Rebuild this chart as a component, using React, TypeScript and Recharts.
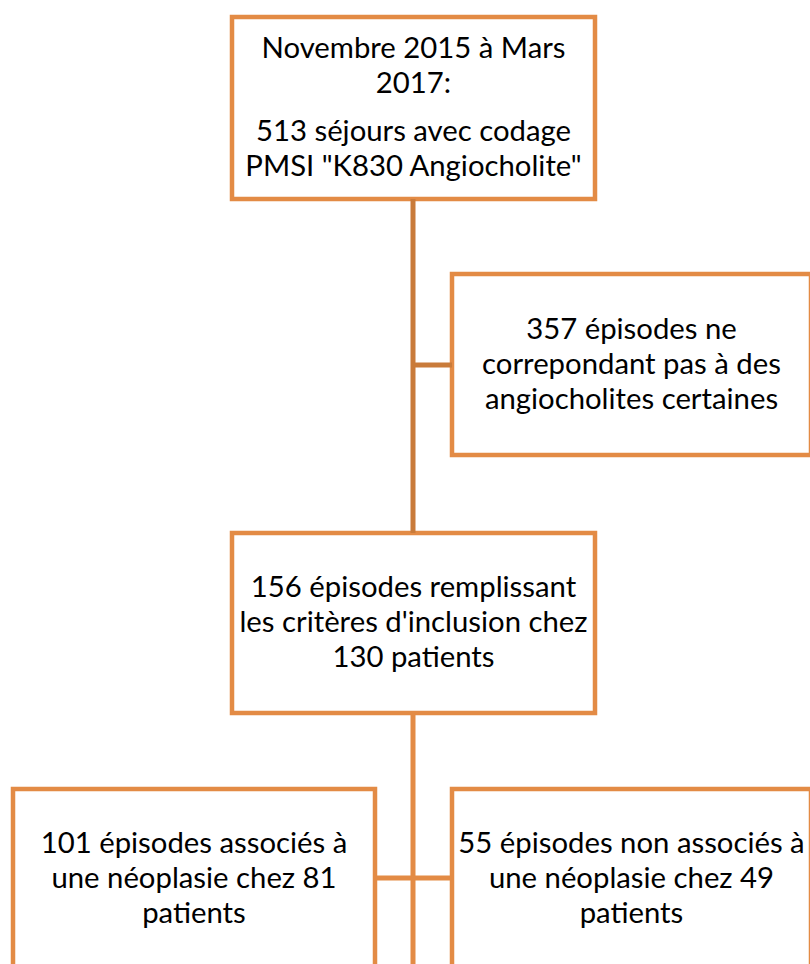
import { ComposedChart, XAxis, YAxis, ReferenceArea, ReferenceLine } from 'recharts'

// boxes of the flow diagram (coords in diagram units, y grows downward)
const boxTexts: string[][][] = [
  [['Novembre 2015 à Mars', '2017:'], ['513 séjours avec codage', 'PMSI "K830 Angiocholite"']],
  [['357 épisodes ne', 'correpondant pas à des', 'angiocholites certaines']],
  [["156 épisodes remplissant", "les critères d'inclusion chez", '130 patients']],
  [['101 épisodes associés à', 'une néoplasie chez 81', 'patients']],
  [['55 épisodes non associés à', 'une néoplasie chez 49', 'patients']],
]
const boxX1 = [232, 452, 232, 13, 452]
const boxX2 = [595, 811, 595, 375, 811]
const boxY1 = [17, 274, 533, 789, 789]
const boxY2 = [199, 455, 713, 968, 968]

// connectors: [x1, y1, x2, y2]
const links = [
  [413, 199, 413, 533],
  [413, 365, 452, 365],
  [413, 713, 413, 970],
  [375, 878, 452, 878],
]
const linkColors = ['#C97B3A', '#C97B3A', '#E38B45', '#E38B45']

const BOX_STROKE = '#E38B45'
const LINE_H = 35
const PARA_GAP = 13

function BoxText({ viewBox, paras }: any) {
  if (!viewBox) return null
  const cx = viewBox.x + viewBox.width / 2
  const cy = viewBox.y + viewBox.height / 2
  const rows: { t: string; off: number }[] = []
  let off = 0
  paras.forEach((p: string[], pi: number) => {
    if (pi > 0) off += PARA_GAP
    p.forEach((t, li) => {
      rows.push({ t, off })
      if (li < p.length - 1 || pi < paras.length - 1) off += LINE_H
    })
  })
  const total = off
  return (
    <g>
      {rows.map((r, i) => (
        <text key={i} x={cx} y={cy + 9 - total / 2 + r.off} textAnchor="middle" fontSize={29.3}
          fontFamily="Lato, 'Open Sans', sans-serif" fill="#000">
          {r.t}
        </text>
      ))}
    </g>
  )
}

export default function App() {
  return (
    <div style={{ position: 'fixed', left: 0, top: 0, background: '#fff' }}>
      <ComposedChart width={810} height={964} data={[]} margin={{ top: 0, right: 0, bottom: 0, left: 0 }}>
        <XAxis type="number" dataKey="x" domain={[0, 810]} hide allowDataOverflow />
        <YAxis type="number" dataKey="y" domain={[0, 964]} reversed hide allowDataOverflow width={0} />
        {links.map((l, i) => (
          <ReferenceLine key={'l' + i} segment={[{ x: l[0], y: l[1] }, { x: l[2], y: l[3] }]}
            stroke={linkColors[i]} strokeWidth={5} ifOverflow="visible" />
        ))}
        {boxTexts.map((paras, i) => (
          <ReferenceArea key={'b' + i} x1={boxX1[i]} x2={boxX2[i]} y1={boxY1[i]} y2={boxY2[i]}
            fill="#fff" fillOpacity={1} stroke={BOX_STROKE} strokeWidth={4.5} ifOverflow="visible"
            label={(p: any) => <BoxText viewBox={p.viewBox} paras={paras} />} />
        ))}
      </ComposedChart>
    </div>
  )
}
